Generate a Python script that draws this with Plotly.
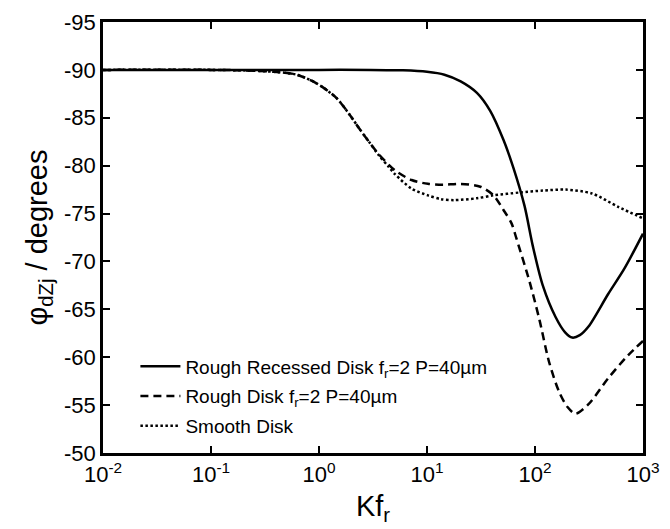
import plotly.graph_objects as go

# Phase angle vs dimensionless frequency Kf_r
kf_recessed = [0.01, 0.1, 1, 3, 6, 10, 14.5, 20.5, 29, 38.6, 51, 63, 80, 95.5,
               118, 155, 190, 221, 260, 313, 476, 676, 1000]
phi_recessed = [-90, -90, -90, -90, -89.95, -89.8, -89.5, -88.8, -87.6, -85.7, -82.7,
                -79.8, -75.8, -71.6, -67.5, -64.2, -62.6, -62.05, -62.3, -63.2,
                -66.6, -69.3, -72.9]

kf_rough = [0.01, 0.1, 0.2, 0.38, 0.62, 0.95, 1.44, 1.9, 2.35, 2.9, 3.57, 5.07, 7.2,
            10.2, 14, 20.4, 31.2, 41.3, 50.9, 60.5, 67.3, 89, 110, 135, 167, 200, 237,
            313, 476, 727, 1000]
phi_rough = [-90, -90, -89.95, -89.8, -89.5, -88.6, -87.1, -85.4, -83.9, -82.5, -81.2,
             -79.5, -78.5, -78.1, -78.0, -78.1, -77.8, -76.9, -75.4, -74.0, -72.4,
             -67.9, -63.9, -59.5, -56.4, -54.8, -54.1, -55.1, -57.8, -60.2, -61.7]

kf_smooth = [0.01, 0.1, 0.2, 0.38, 0.62, 0.95, 1.44, 1.9, 2.35, 2.9, 3.57, 4.4, 5.07,
             7.2, 10.2, 13.5, 17.8, 29, 41, 72.3, 118, 192, 336, 589, 1000]
phi_smooth = [-90, -90, -89.95, -89.8, -89.5, -88.6, -87.1, -85.4, -83.9, -82.5, -81.1,
              -79.9, -79.1, -77.6, -76.9, -76.5, -76.4, -76.6, -76.9, -77.2, -77.4,
              -77.5, -77.1, -75.7, -74.5]

x_tickvals = [0.01, 0.1, 1, 10, 100, 1000]
x_ticktext = ["10<sup>-2</sup>", "10<sup>-1</sup>", "10<sup>0</sup>",
              "10<sup>1</sup>", "10<sup>2</sup>", "10<sup>3</sup>"]
y_tickvals = [-95, -90, -85, -80, -75, -70, -65, -60, -55, -50]
y_ticktext = ["-95", "-90", "-85", "-80", "-75", "-70", "-65", "-60", "-55", "-50"]

FONT = "Liberation Sans, Arial, sans-serif"

fig = go.Figure()
fig.add_trace(go.Scatter(
    x=kf_recessed, y=phi_recessed, mode="lines", legendgroup="a",
    name="Rough Recessed Disk f<sub>r</sub>=2 P=40\u00b5m",
    line=dict(color="black", width=2.5, shape="spline", smoothing=0.8),
))
fig.add_trace(go.Scatter(
    x=kf_rough, y=phi_rough, mode="lines", legendgroup="b",
    name="Rough Disk f<sub>r</sub>=2 P=40\u00b5m",
    line=dict(color="black", width=2.5, dash="8px,5px", shape="spline", smoothing=0.8),
))
fig.add_trace(go.Scatter(
    x=kf_smooth, y=phi_smooth, mode="lines", legendgroup="c",
    name="Smooth Disk",
    line=dict(color="black", width=2.5, dash="2.5px,2.5px", shape="spline", smoothing=0.8),
))

axis_common = dict(
    showline=True, linecolor="black", linewidth=2.5, mirror="ticks",
    ticks="inside", ticklen=7, tickwidth=2, tickcolor="black",
    showgrid=False, zeroline=False,
    tickfont=dict(family=FONT, size=22, color="black"),
)

fig.update_xaxes(
    type="log", range=[-2, 3],
    tickvals=x_tickvals, ticktext=x_ticktext,
    title=dict(text="Kf<sub>r</sub>", font=dict(family=FONT, size=29, color="black"),
               standoff=10),
    **axis_common,
)
fig.update_yaxes(
    range=[-50, -95], tickvals=y_tickvals, ticktext=y_ticktext,
    title=dict(text="\u03c6<sub>dZj</sub> / degrees",
               font=dict(family=FONT, size=29, color="black"), standoff=8),
    **axis_common,
)

fig.update_layout(
    width=670, height=529,
    margin=dict(l=103, r=18, t=10, b=76),
    paper_bgcolor="white", plot_bgcolor="white",
    showlegend=True,
    legend=dict(
        x=0.06, y=0.245, xanchor="left", yanchor="top",
        bgcolor="rgba(0,0,0,0)", borderwidth=0,
        font=dict(family=FONT, size=19, color="black"),
        tracegroupgap=2, itemwidth=40,
    ),
)

fig.write_html("out.html")
